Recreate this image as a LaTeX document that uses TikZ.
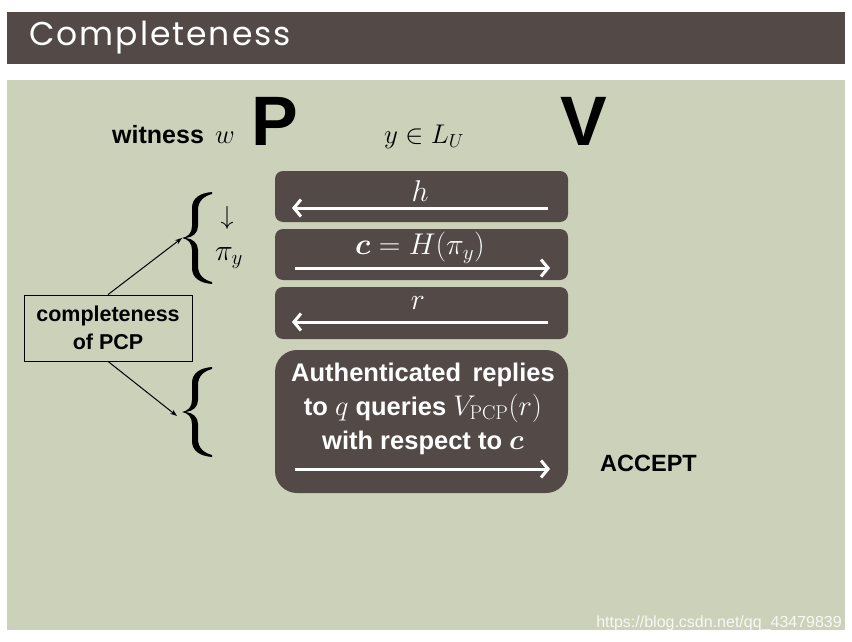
\RequirePackage{fix-cm}
\documentclass[tikz,border=0pt]{standalone}
\usepackage{amsmath}
\usepackage[no-math]{fontspec}
\setmainfont{Liberation Sans}
\newfontfamily\titlefont[LetterSpace=6]{Poppins}
\usetikzlibrary{arrows.meta}
\definecolor{boxbrown}{RGB}{83,74,72}
\definecolor{panelgreen}{RGB}{204,209,186}
\tikzset{
  msgbox/.style={fill=boxbrown, rounded corners=8pt, draw=none},
  bigbox/.style={fill=boxbrown, rounded corners=22pt, draw=none},
  warrow/.style={draw=white, line width=3pt, -{Straight Barb[length=7pt,width=17pt]}},
  karrow/.style={draw=black, line width=1pt, -{Stealth[length=7pt,width=5pt]}},
  wtxt/.style={text=white, font=\fontsize{25.5}{34}\selectfont\bfseries},
  mtxt/.style={text=white, font=\fontsize{30}{34}\selectfont},
  tbrace/.pic={
    \fill[black] (30,-#1) .. controls (18,-#1+1) and (10,-#1+6) .. (10,-#1+16)
      -- (10,-12) .. controls (10,-5) and (6,-1) .. (0,0)
      .. controls (6,1) and (10,5) .. (10,12)
      -- (10,#1-16) .. controls (10,#1-6) and (18,#1-1) .. (30,#1)
      -- (30,#1-2) .. controls (22,#1-4) and (16,#1-9) .. (16,#1-18)
      -- (16,12) .. controls (16,5) and (11,1) .. (4,0)
      .. controls (11,-1) and (16,-5) .. (16,-12)
      -- (16,-#1+18) .. controls (16,-#1+9) and (22,-#1+4) .. (30,-#1+2)
      -- cycle;
    \coordinate (-tip) at (0,0);
  },
}
\newcommand{\mfs}{\fontsize{28.5}{34}\selectfont}
\newcommand{\tfs}{\fontsize{25.5}{34}\selectfont}
\begin{document}
\begin{tikzpicture}[x=1pt,y=-1pt]
\useasboundingbox (0,0) rectangle (852,642);
\fill[white] (0,0) rectangle (852,642);
% title bar
\fill[boxbrown] (7,12) rectangle (845,64);
\node[anchor=west, text=white, font=\titlefont\fontsize{33}{38}\selectfont, inner sep=0pt] (title) at (29,38) {Completeness};
% panel
\fill[panelgreen] (7,80) rectangle (845,630);
% header row
\node[anchor=base west, inner sep=0pt, font=\fontsize{25}{28}\selectfont\bfseries] (wit) at (112,143) {witness\, \fontsize{27}{30}\selectfont$w$};
\node[anchor=base west, inner sep=0pt, font=\fontsize{70}{80}\selectfont\bfseries] (P) at (251,145) {P};
\node[anchor=base, inner sep=0pt, font=\fontsize{27}{32}\selectfont] (yin) at (424,143) {$y\in L_U$};
\node[anchor=base west, inner sep=0pt, font=\fontsize{70}{80}\selectfont\bfseries] (V) at (560,145) {V};
% message boxes
\path[msgbox] (275,171) rectangle (568,222);
\path[msgbox] (275,229) rectangle (568,280);
\path[msgbox] (275,287) rectangle (568,339);
\path[bigbox] (275,350) rectangle (568,493);
\node[mtxt] (h) at (420,191) {$h$};
\node[mtxt] (c) at (420,248) {$\boldsymbol{c}=H(\pi_y)$};
\node[mtxt] (r) at (418,303) {$r$};
\coordinate (a1s) at (548,208); \coordinate (a1e) at (292,208);
\coordinate (a2s) at (295,268); \coordinate (a2e) at (550,268);
\coordinate (a3s) at (548,322); \coordinate (a3e) at (292,322);
\coordinate (a4s) at (295,469); \coordinate (a4e) at (550,469);
\draw[warrow] (a1s) -- (a1e);
\draw[warrow] (a2s) -- (a2e);
\draw[warrow] (a3s) -- (a3e);
\draw[warrow] (a4s) -- (a4e);
\node[wtxt, align=center] (auth) at (423,409) {Authenticated\, replies\\to {\mfs$q$} queries {\mfs$V_{\mathrm{PCP}}(r)$}\\with respect to {\mfs$\boldsymbol{c}$}};
\node[anchor=base west, inner sep=0pt, font=\fontsize{23.5}{28}\selectfont\bfseries] (acc) at (600,471) {ACCEPT};
% braces
\pic (br1) at (182,238) {tbrace=46};
\node[inner sep=0pt, font=\fontsize{26}{28}\selectfont] (down) at (227,218) {$\downarrow$};
\node[inner sep=0pt, font=\fontsize{30}{32}\selectfont] (piy) at (229,258) {$\pi_y$};
\pic (br2) at (182,412) {tbrace=45};
% completeness of PCP
\node[draw=black, line width=0.8pt, fill=panelgreen, align=center, minimum width=168pt, minimum height=66pt, inner sep=2pt, font=\fontsize{21.5}{28}\selectfont\bfseries] (pcp) at (108,328) {completeness\\of PCP};
\draw[karrow] (pcp.north) -- (br1-tip);
\draw[karrow] (pcp.south) -- ([xshift=-5pt,yshift=-4pt]br2-tip);
% watermark
\node[anchor=base east, inner sep=0pt, text=white, opacity=0.85, font=\fontsize{16}{18}\selectfont] (wm) at (842,627) {https://blog.csdn.net/qq\_43479839};
\end{tikzpicture}
\end{document}
